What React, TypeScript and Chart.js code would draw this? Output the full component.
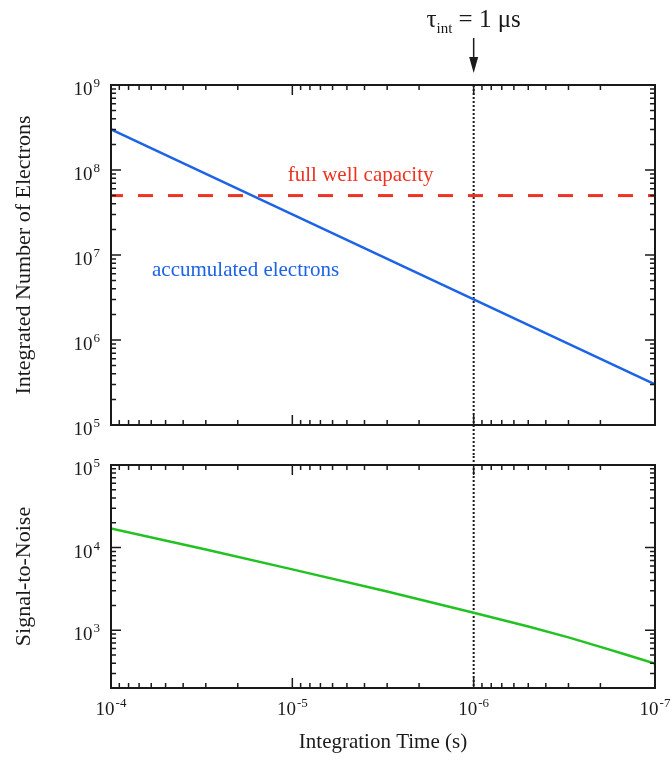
import React, { useEffect, useRef } from 'react';
import { Chart, registerables } from 'chart.js';

Chart.register(...registerables);

// ---------- data ----------
const timeTicks = [1e-4, 1e-5, 1e-6, 1e-7];
const electronTicks = [1e5, 1e6, 1e7, 1e8, 1e9];
const snrTicks = [1e3, 1e4, 1e5];

const electronTime = [1e-4, 1e-5, 1e-6, 1e-7];
const electronCounts = [3e8, 3e7, 3e6, 3e5];

const fullWellTime = [1e-4, 1e-7];
const fullWellCapacity = [5e7, 5e7];

const snrTime = [1e-4, 3e-5, 1e-5, 3e-6, 1e-6, 5e-7, 3e-7, 2e-7, 1.5e-7, 1e-7];
const snrValues = [17000, 9500, 5450, 2950, 1630, 1110, 820, 630, 520, 395];

const markerTime = 1e-6;

// ---------- style ----------
const FONT = '"Liberation Serif", "Times New Roman", Times, serif';
const INK = '#1a1a1a';
const BLUE = '#1c63e6';
const RED = '#ee3322';
const GREEN = '#22c222';
const W = 672;
const H = 765;
const SPLIT = 456;

function pts(xs: number[], ys: number[]) {
  return xs.map((x, i) => ({ x, y: ys[i] }));
}

function drawFrame(ctx: CanvasRenderingContext2D, a: any) {
  ctx.save();
  ctx.strokeStyle = INK;
  ctx.lineWidth = 2;
  ctx.strokeRect(a.left, a.top, a.right - a.left, a.bottom - a.top);
  ctx.restore();
}

function drawLogTicks(ctx: CanvasRenderingContext2D, scale: any, axis: 'x' | 'y', a: any) {
  const min = Math.min(scale.min, scale.max);
  const max = Math.max(scale.min, scale.max);
  const lo = Math.floor(Math.log10(min));
  const hi = Math.ceil(Math.log10(max));
  ctx.save();
  ctx.strokeStyle = INK;
  ctx.lineWidth = 1.5;
  ctx.beginPath();
  for (let e = lo; e <= hi; e++) {
    for (let m = 1; m <= 9; m++) {
      const v = m * Math.pow(10, e);
      if (v < min * 0.999 || v > max * 1.001) continue;
      const p = scale.getPixelForValue(v);
      const len = m === 1 ? 10 : 5;
      if (axis === 'x') {
        ctx.moveTo(p, a.top);
        ctx.lineTo(p, a.top + len);
        ctx.moveTo(p, a.bottom);
        ctx.lineTo(p, a.bottom - len);
      } else {
        ctx.moveTo(a.left, p);
        ctx.lineTo(a.left + len, p);
        ctx.moveTo(a.right, p);
        ctx.lineTo(a.right - len, p);
      }
    }
  }
  ctx.stroke();
  ctx.restore();
}

function drawPow(ctx: CanvasRenderingContext2D, exp: string, x: number, y: number, align: 'right' | 'center') {
  ctx.save();
  ctx.fillStyle = INK;
  ctx.textBaseline = 'alphabetic';
  ctx.textAlign = 'left';
  ctx.font = `19px ${FONT}`;
  const wb = ctx.measureText('10').width;
  ctx.font = `13px ${FONT}`;
  const we = ctx.measureText(exp).width;
  const total = wb + 1 + we;
  const left = align === 'right' ? x - total : x - total / 2;
  ctx.font = `19px ${FONT}`;
  ctx.fillText('10', left, y);
  ctx.font = `13px ${FONT}`;
  ctx.fillText(exp, left + wb + 1, y - 8);
  ctx.restore();
}

function drawYLabels(ctx: CanvasRenderingContext2D, scale: any, values: number[], a: any) {
  for (const v of values) {
    const p = scale.getPixelForValue(v);
    drawPow(ctx, String(Math.round(Math.log10(v))), a.left - 11, p + 10, 'right');
  }
}

function drawYTitle(ctx: CanvasRenderingContext2D, text: string, a: any) {
  ctx.save();
  ctx.fillStyle = INK;
  ctx.font = `22px ${FONT}`;
  ctx.textAlign = 'center';
  ctx.textBaseline = 'alphabetic';
  ctx.translate(30, (a.top + a.bottom) / 2);
  ctx.rotate(-Math.PI / 2);
  ctx.fillText(text, 0, 0);
  ctx.restore();
}

function drawMarker(ctx: CanvasRenderingContext2D, x: number, y0: number, y1: number) {
  ctx.save();
  ctx.strokeStyle = INK;
  ctx.lineWidth = 2;
  ctx.setLineDash([2, 2]);
  ctx.beginPath();
  ctx.moveTo(x, y0);
  ctx.lineTo(x, y1);
  ctx.stroke();
  ctx.restore();
}

const topPlugin = {
  id: 'topDecor',
  beforeDatasetsDraw(chart: any) {
    const ctx = chart.ctx;
    const a = chart.chartArea;
    const x = chart.scales.x.getPixelForValue(markerTime);
    drawMarker(ctx, x, a.top, chart.height);
  },
  afterDatasetsDraw(chart: any) {
    const ctx: CanvasRenderingContext2D = chart.ctx;
    const a = chart.chartArea;
    const xs = chart.scales.x;
    const ys = chart.scales.y;
    drawLogTicks(ctx, xs, 'x', a);
    drawLogTicks(ctx, ys, 'y', a);
    drawFrame(ctx, a);
    drawYLabels(ctx, ys, electronTicks, a);
    drawYTitle(ctx, 'Integrated Number of Electrons', a);

    ctx.save();
    ctx.textBaseline = 'alphabetic';
    ctx.textAlign = 'left';
    ctx.font = `21px ${FONT}`;
    ctx.fillStyle = RED;
    ctx.fillText('full well capacity', xs.getPixelForValue(1.06e-5), ys.getPixelForValue(7.4e7));
    ctx.fillStyle = BLUE;
    ctx.fillText('accumulated electrons', xs.getPixelForValue(5.94e-5), ys.getPixelForValue(5.6e6));
    ctx.restore();

    // tau annotation + arrow
    const mx = xs.getPixelForValue(markerTime);
    ctx.save();
    ctx.fillStyle = INK;
    ctx.textBaseline = 'alphabetic';
    ctx.textAlign = 'left';
    ctx.font = `25px ${FONT}`;
    const w1 = ctx.measureText('τ').width;
    const w3 = ctx.measureText(' = 1 μs').width;
    ctx.font = `15px ${FONT}`;
    const w2 = ctx.measureText('int').width;
    const total = w1 + w2 + w3;
    const left = mx - total / 2;
    const base = 27;
    ctx.font = `25px ${FONT}`;
    ctx.fillText('τ', left, base);
    ctx.font = `15px ${FONT}`;
    ctx.fillText('int', left + w1, base + 6);
    ctx.font = `25px ${FONT}`;
    ctx.fillText(' = 1 μs', left + w1 + w2, base);
    // arrow
    ctx.strokeStyle = INK;
    ctx.lineWidth = 1.5;
    ctx.beginPath();
    ctx.moveTo(mx, 38);
    ctx.lineTo(mx, 62);
    ctx.stroke();
    ctx.beginPath();
    ctx.moveTo(mx - 4.5, 57);
    ctx.lineTo(mx + 4.5, 57);
    ctx.lineTo(mx, 73);
    ctx.closePath();
    ctx.fill();
    ctx.restore();
  },
};

const bottomPlugin = {
  id: 'bottomDecor',
  beforeDatasetsDraw(chart: any) {
    const ctx = chart.ctx;
    const a = chart.chartArea;
    const x = chart.scales.x.getPixelForValue(markerTime);
    drawMarker(ctx, x, 0, a.bottom);
  },
  afterDatasetsDraw(chart: any) {
    const ctx: CanvasRenderingContext2D = chart.ctx;
    const a = chart.chartArea;
    const xs = chart.scales.x;
    const ys = chart.scales.y;
    drawLogTicks(ctx, xs, 'x', a);
    drawLogTicks(ctx, ys, 'y', a);
    drawFrame(ctx, a);
    drawYLabels(ctx, ys, snrTicks, a);
    drawYTitle(ctx, 'Signal-to-Noise', a);
    for (const t of timeTicks) {
      drawPow(ctx, String(Math.round(Math.log10(t))), xs.getPixelForValue(t), a.bottom + 27, 'center');
    }
    ctx.save();
    ctx.fillStyle = INK;
    ctx.font = `21px ${FONT}`;
    ctx.textAlign = 'center';
    ctx.textBaseline = 'alphabetic';
    ctx.fillText('Integration Time (s)', (a.left + a.right) / 2, a.bottom + 60);
    ctx.restore();
  },
};

const xScale = {
  type: 'logarithmic' as const,
  min: 1e-7,
  max: 1e-4,
  reverse: true,
  display: false,
};

export default function App() {
  const topRef = useRef<HTMLCanvasElement>(null);
  const botRef = useRef<HTMLCanvasElement>(null);

  useEffect(() => {
    const top = new Chart(topRef.current as HTMLCanvasElement, {
      type: 'line',
      data: {
        datasets: [
          {
            data: pts(electronTime, electronCounts),
            borderColor: BLUE,
            borderWidth: 2.5,
            pointRadius: 0,
            tension: 0,
          },
          {
            data: pts(fullWellTime, fullWellCapacity),
            borderColor: RED,
            borderWidth: 3,
            borderDash: [15, 15],
            borderDashOffset: 3,
            pointRadius: 0,
          },
        ],
      },
      options: {
        responsive: false,
        animation: false,
        devicePixelRatio: 1,
        layout: { padding: { left: 111, right: W - 655, top: 85, bottom: SPLIT - 425 } },
        scales: {
          x: { ...xScale },
          y: { type: 'logarithmic', min: 1e5, max: 1e9, display: false },
        },
        plugins: { legend: { display: false }, tooltip: { enabled: false } },
      },
      plugins: [topPlugin],
    } as any);

    const bot = new Chart(botRef.current as HTMLCanvasElement, {
      type: 'line',
      data: {
        datasets: [
          {
            data: pts(snrTime, snrValues),
            borderColor: GREEN,
            borderWidth: 2.5,
            pointRadius: 0,
            tension: 0,
          },
        ],
      },
      options: {
        responsive: false,
        animation: false,
        devicePixelRatio: 1,
        layout: { padding: { left: 111, right: W - 655, top: 465 - SPLIT, bottom: H - 688 } },
        scales: {
          x: { ...xScale },
          y: { type: 'logarithmic', min: 200, max: 1e5, display: false },
        },
        plugins: { legend: { display: false }, tooltip: { enabled: false } },
      },
      plugins: [bottomPlugin],
    } as any);

    return () => {
      top.destroy();
      bot.destroy();
    };
  }, []);

  return (
    <div style={{ position: 'absolute', left: 0, top: 0, width: W, height: H, background: '#fff' }}>
      <canvas
        ref={topRef}
        width={W}
        height={SPLIT}
        style={{ position: 'absolute', left: 0, top: 0, width: W, height: SPLIT }}
      />
      <canvas
        ref={botRef}
        width={W}
        height={H - SPLIT}
        style={{ position: 'absolute', left: 0, top: SPLIT, width: W, height: H - SPLIT }}
      />
    </div>
  );
}
